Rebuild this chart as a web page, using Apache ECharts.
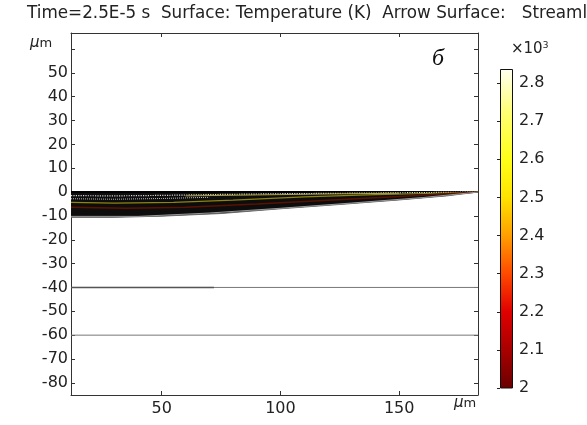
<!DOCTYPE html>
<html><head><meta charset="utf-8">
<script src="https://cdn.jsdelivr.net/npm/echarts@6/dist/echarts.min.js"></script>
<style>html,body{margin:0;padding:0;background:#fff}#c{width:587px;height:425px}</style>
</head><body><div id="c"></div>
<script>
// ---- data ----
const titleText = 'Time=2.5E-5 s  Surface: Temperature (K)  Arrow Surface:   Streamline';
const xTicks = [50, 100, 150];
const yTicks = [-80, -70, -60, -50, -40, -30, -20, -10, 0, 10, 20, 30, 40, 50, 60];
const xRange = [11.8, 183.2];
const yRange = [-85.1, 66.7];
const cbTicks = [2, 2.1, 2.2, 2.3, 2.4, 2.5, 2.6, 2.7, 2.8];
const cbRange = [2, 2.837];
// melt band lower boundary (µm)
const bandBottom = [[11.8,-10.6],[30,-10.6],[50,-10.1],[75,-9],[100,-7],[125,-5.2],[150,-3.3],[170,-1.6],[183.2,0]];
const bandTop = [[11.8,0],[183.2,0]];
// streamlines inside the band
const streamWhite = [[11.8,-1.5],[30,-1.6],[50,-1.4],[75,-1],[100,-0.7],[140,-0.4],[183.2,0]];
const streamWhite2 = [[11.8,-2.8],[30,-3],[50,-2.7],[70,-2.2]];
const streamYellow = [[11.8,-4.3],[30,-4.6],[55,-4.3],[80,-3.4],[110,-2],[140,-1.1],[165,-0.5],[183.2,0]];
const streamYellow2 = [[60,-1.6],[90,-1.2],[120,-0.8],[150,-0.5]];
const streamRed = [[11.8,-6.4],[35,-6.8],[60,-6.4],[90,-5],[120,-3.4],[150,-1.9],[183.2,0]];
const streamGray = [[11.8,-10.2],[40,-10.2],[70,-8.8],[100,-6.8],[130,-4.6],[160,-2.3],[183.2,0]];
const line40 = [[11.8,-40],[183.2,-40]];
const line40dark = [[11.8,-40],[72,-40]];
const line60 = [[11.8,-60],[183.2,-60]];

const axisCol = '#333';
const txtCol = '#222';
const font = 'DejaVu Sans';

const chart = echarts.init(document.getElementById('c'), null, {renderer:'canvas'});
const lineS = (d, color, w, extra) => Object.assign({
  type:'line', data:d, xAxisIndex:0, yAxisIndex:0, showSymbol:false, symbol:'none',
  lineStyle:{color:color, width:w}, silent:true, z:3, animation:false
}, extra||{});

chart.setOption({
  animation:false,
  backgroundColor:'#fff',
  title:{text:titleText, left:27, top:5, padding:0, textStyle:{fontFamily:font, fontSize:16.8, fontWeight:'normal', color:txtCol}},
  grid:[
    {left:71, right:109, top:33, bottom:30, show:false},
    {left:500, width:13, top:69, bottom:37, show:false}
  ],
  xAxis:[
    {type:'value', gridIndex:0, min:xRange[0], max:xRange[1], position:'bottom',
     axisLine:{show:true, onZero:false, lineStyle:{color:axisCol, width:1}},
     axisTick:{show:true, inside:true, length:4, customValues:xTicks, lineStyle:{color:axisCol}},
     axisLabel:{customValues:xTicks, color:txtCol, fontFamily:font, fontSize:16, margin:6},
     splitLine:{show:false}},
    {type:'value', gridIndex:0, min:xRange[0], max:xRange[1], position:'top',
     axisLine:{show:true, onZero:false, lineStyle:{color:axisCol, width:1}},
     axisTick:{show:true, inside:true, length:4, customValues:xTicks, lineStyle:{color:axisCol}},
     axisLabel:{show:false}, splitLine:{show:false}},
    {type:'value', gridIndex:1, min:0, max:1, show:false}
  ],
  yAxis:[
    {type:'value', gridIndex:0, min:yRange[0], max:yRange[1], position:'left',
     axisLine:{show:true, onZero:false, lineStyle:{color:axisCol, width:1}},
     axisTick:{show:true, inside:true, length:4, customValues:yTicks, lineStyle:{color:axisCol}},
     axisLabel:{customValues:yTicks, color:txtCol, fontFamily:font, fontSize:16, margin:3,
       formatter:v => (v === 60 ? '' : String(v))},
     splitLine:{show:false}},
    {type:'value', gridIndex:0, min:yRange[0], max:yRange[1], position:'right',
     axisLine:{show:true, onZero:false, lineStyle:{color:axisCol, width:1}},
     axisTick:{show:true, inside:true, length:4, customValues:yTicks, lineStyle:{color:axisCol}},
     axisLabel:{show:false}, splitLine:{show:false}},
    {type:'value', gridIndex:1, min:cbRange[0], max:cbRange[1], position:'right',
     axisLine:{show:false},
     axisTick:{show:true, inside:true, length:3, customValues:cbTicks, lineStyle:{color:'#222'}},
     axisLabel:{customValues:cbTicks, color:txtCol, fontFamily:font, fontSize:16, margin:6,
       formatter:v => (Math.abs(v-2) < 1e-9 ? '2' : v.toFixed(1))},
     splitLine:{show:false}}
  ],
  series:[
    // colorbar
    {type:'bar', xAxisIndex:2, yAxisIndex:2, data:[[0.5, cbRange[1]]], barWidth:13, silent:true, z:1,
     itemStyle:{borderColor:'#111', borderWidth:1,
       color:new echarts.graphic.LinearGradient(0,1,0,0,[
         {offset:0, color:'#6a0000'},
         {offset:0.12, color:'#a80000'},
         {offset:0.24, color:'#e00000'},
         {offset:0.36, color:'#ff4a00'},
         {offset:0.48, color:'#ffa000'},
         {offset:0.60, color:'#ffe400'},
         {offset:0.72, color:'#ffff1a'},
         {offset:0.86, color:'#ffff70'},
         {offset:1, color:'#fffff2'}
       ])}},
    // melt band filled
    lineS(bandBottom, '#666', 1, {areaStyle:{color:'#0d0d0d', opacity:1, origin:'auto'}, z:2}),
    lineS(bandTop, '#000', 2),
    lineS(streamWhite, '#d8d8d8', 1.2, {lineStyle:{color:'#d8d8d8', width:1.2, type:'dotted'}}),
    lineS(streamWhite2, '#bdbdbd', 1, {lineStyle:{color:'#bdbdbd', width:1, type:'dotted'}}),
    lineS(streamYellow, '#8f8410', 1.2),
    lineS(streamYellow2, '#b0a440', 1),
    lineS(streamRed, '#5a1200', 1.5),
    lineS(streamGray, '#9a9a9a', 1),
    lineS(line40, '#777', 1),
    lineS(line40dark, '#555', 1.5),
    lineS(line60, '#777', 1)
  ],
  graphic:[
    {type:'text', left:30, top:36, style:{rich:{i:{fontFamily:font, fontSize:15, fontStyle:'italic', fill:txtCol}, n:{fontFamily:font, fontSize:13, fill:txtCol}}, text:'{i|µ}{n|m}'}},
    {type:'text', left:454, top:396, style:{rich:{i:{fontFamily:font, fontSize:15, fontStyle:'italic', fill:txtCol}, n:{fontFamily:font, fontSize:13, fill:txtCol}}, text:'{i|µ}{n|m}'}},
    {type:'text', left:432, top:47, style:{text:'б', fontFamily:'Liberation Serif', fontSize:24, fontStyle:'italic', fill:'#111'}},
    {type:'text', left:511, top:41, style:{rich:{a:{fontFamily:font, fontSize:15, fill:txtCol}, b:{fontFamily:font, fontSize:9, fill:txtCol, verticalAlign:'top', padding:[0,0,8,0]}}, text:'{a|×10}{b|3}'}}
  ]
});
</script>
</body></html>
